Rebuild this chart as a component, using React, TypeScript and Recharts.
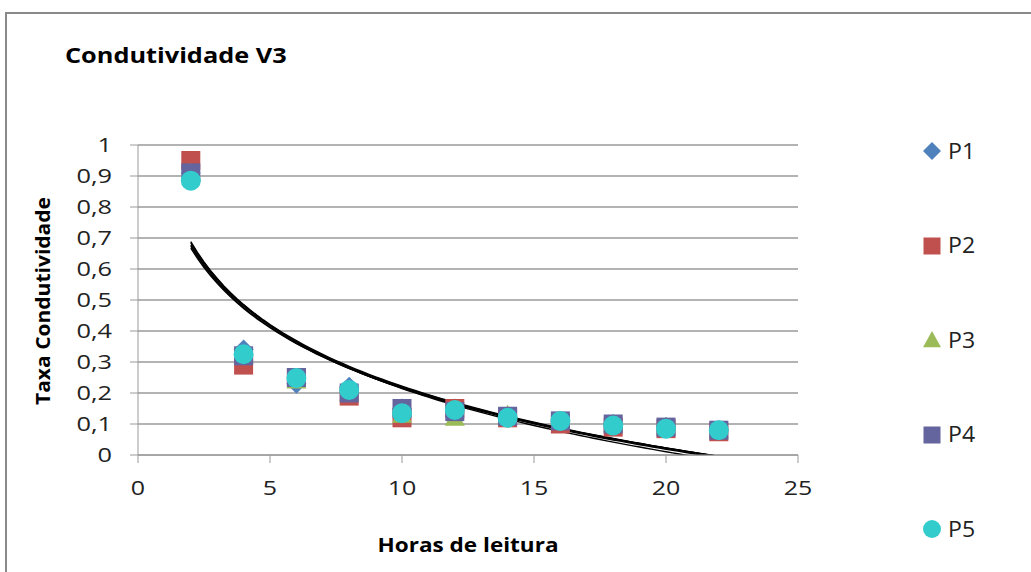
import * as React from "react";
import {
  ComposedChart,
  Scatter,
  Line,
  XAxis,
  YAxis,
  CartesianGrid,
} from "recharts";

const hours = [2, 4, 6, 8, 10, 12, 14, 16, 18, 20, 22];
const p1 = [0.91, 0.34, 0.23, 0.22, 0.15, 0.15, 0.12, 0.11, 0.1, 0.09, 0.08];
const p2 = [0.95, 0.29, 0.25, 0.19, 0.12, 0.15, 0.12, 0.1, 0.09, 0.085, 0.075];
const p3 = [0.91, 0.32, 0.24, 0.2, 0.13, 0.12, 0.13, 0.11, 0.1, 0.09, 0.08];
const p4 = [0.91, 0.32, 0.25, 0.2, 0.15, 0.14, 0.125, 0.11, 0.1, 0.09, 0.08];
const p5 = [0.885, 0.325, 0.248, 0.21, 0.135, 0.145, 0.12, 0.11, 0.095, 0.085, 0.08];

const xTicks = [0, 5, 10, 15, 20, 25];
const yTicks = [0, 0.1, 0.2, 0.3, 0.4, 0.5, 0.6, 0.7, 0.8, 0.9, 1];

const series = [
  { name: "P1", values: p1, color: "#4F81BD", shape: "diamond" },
  { name: "P2", values: p2, color: "#C0504D", shape: "square" },
  { name: "P3", values: p3, color: "#9BBB59", shape: "triangle" },
  { name: "P4", values: p4, color: "#64649E", shape: "square" },
  { name: "P5", values: p5, color: "#33CCCC", shape: "circle" },
];

const FONT = "'Open Sans', sans-serif";

// logarithmic least-squares trendline, like the spreadsheet one
function logTrend(values: number[]) {
  const lx = hours.map((h) => Math.log(h));
  const n = lx.length;
  const mx = lx.reduce((a, b) => a + b, 0) / n;
  const my = values.reduce((a, b) => a + b, 0) / n;
  let sxy = 0;
  let sxx = 0;
  lx.forEach((v, i) => {
    sxy += (v - mx) * (values[i] - my);
    sxx += (v - mx) * (v - mx);
  });
  const a = sxy / sxx;
  const b = my - a * mx;
  const pts = [];
  for (let x = hours[0]; x <= hours[hours.length - 1]; x += 0.25) {
    pts.push({ x, y: a * Math.log(x) + b });
  }
  return pts;
}

function Marker({ cx, cy, shape, color, s = 10 }: any) {
  if (cx == null || cy == null) return null;
  if (shape === "diamond")
    return <polygon points={`${cx},${cy - s} ${cx + s},${cy} ${cx},${cy + s} ${cx - s},${cy}`} fill={color} />;
  if (shape === "square")
    return <rect x={cx - s + 0.5} y={cy - s + 0.5} width={2 * s - 1} height={2 * s - 1} fill={color} />;
  if (shape === "triangle")
    return <polygon points={`${cx},${cy - s} ${cx + s},${cy + s * 0.8} ${cx - s},${cy + s * 0.8}`} fill={color} />;
  return <circle cx={cx} cy={cy} r={s} fill={color} />;
}

const fmt = (v: number) => String(v).replace(".", ",");

function YTick({ x, y, payload }: any) {
  return (
    <text
      transform={`translate(${x},${y}) scale(1.3,1)`}
      textAnchor="end"
      dy="0.36em"
      fill="#222"
      fontSize={19.5}
      fontFamily={FONT}
    >
      {fmt(payload.value)}
    </text>
  );
}

function XTick({ x, y, payload }: any) {
  return (
    <text
      transform={`translate(${x},${y + 25}) scale(1.25,1)`}
      textAnchor="middle"
      dy="0.36em"
      fill="#222"
      fontSize={20}
      fontFamily={FONT}
    >
      {payload.value}
    </text>
  );
}

export default function App() {
  return (
    <div style={{ position: "absolute", left: 0, top: 0, width: 1031, height: 572, overflow: "hidden", background: "#fff", fontFamily: FONT }}>
      <div style={{ position: "absolute", left: 5, top: 12, width: 1100, height: 700, border: "2px solid #8a8a8a" }} />
      <div
        style={{
          position: "absolute",
          left: 65,
          top: 43,
          fontSize: 22,
          lineHeight: 1,
          fontWeight: 700,
          color: "#000",
          whiteSpace: "nowrap",
          transform: "scaleX(1.15)",
          transformOrigin: "left center",
        }}
      >
        Condutividade V3
      </div>
      <div
        style={{
          position: "absolute",
          left: 43,
          top: 301,
          transform: "translate(-50%, -50%) rotate(-90deg) scaleX(1.05)",
          fontSize: 20,
          lineHeight: 1,
          fontWeight: 700,
          whiteSpace: "nowrap",
          color: "#000",
        }}
      >
        Taxa Condutividade
      </div>
      <div
        style={{
          position: "absolute",
          left: 468,
          top: 545,
          transform: "translate(-50%, -50%) scaleX(1.15)",
          fontSize: 19.6,
          lineHeight: 1,
          fontWeight: 700,
          whiteSpace: "nowrap",
          color: "#000",
        }}
      >
        Horas de leitura
      </div>
      <ComposedChart
        width={1031}
        height={572}
        margin={{ top: 145, right: 233, bottom: 17, left: 30 }}
        style={{ position: "absolute", left: 0, top: 0 }}
      >
        <CartesianGrid horizontal vertical={false} stroke="#9a9a9a" strokeWidth={1.3} />
        <XAxis
          type="number"
          dataKey="x"
          domain={[0, 25]}
          ticks={xTicks}
          height={100}
          tickSize={8}
          tickMargin={0}
          stroke="#9a9a9a"
          tick={<XTick />}
          allowDataOverflow
        />
        <YAxis
          type="number"
          domain={[0, 1]}
          ticks={yTicks}
          width={108}
          tickSize={8}
          tickMargin={18}
          stroke="#9a9a9a"
          tick={<YTick />}
          allowDataOverflow
        />
        {series.map((s) => (
          <Scatter
            key={s.name}
            name={s.name}
            data={hours.map((h, i) => ({ x: h, y: s.values[i] }))}
            dataKey="y"
            fill={s.color}
            isAnimationActive={false}
            shape={(props: any) => <Marker {...props} shape={s.shape} color={s.color} />}
          />
        ))}
        {series.map((s) => (
          <Line
            key={"t" + s.name}
            data={logTrend(s.values)}
            dataKey="y"
            stroke="#000"
            strokeWidth={1.4}
            dot={false}
            activeDot={false}
            isAnimationActive={false}
            type="linear"
          />
        ))}
      </ComposedChart>
      {series.map((s, i) => (
        <div key={s.name} style={{ position: "absolute", left: 921, top: 151 + i * 94.5 - 12, height: 24, display: "flex", alignItems: "center" }}>
          <svg width={22} height={22}>
            <Marker cx={11} cy={11} s={9} shape={s.shape} color={s.color} />
          </svg>
          <span
            style={{
              marginLeft: 5,
              fontSize: 21,
              lineHeight: 1,
              color: "#222",
              display: "inline-block",
              transform: "scaleX(1.1)",
              transformOrigin: "left center",
            }}
          >
            {s.name}
          </span>
        </div>
      ))}
    </div>
  );
}
